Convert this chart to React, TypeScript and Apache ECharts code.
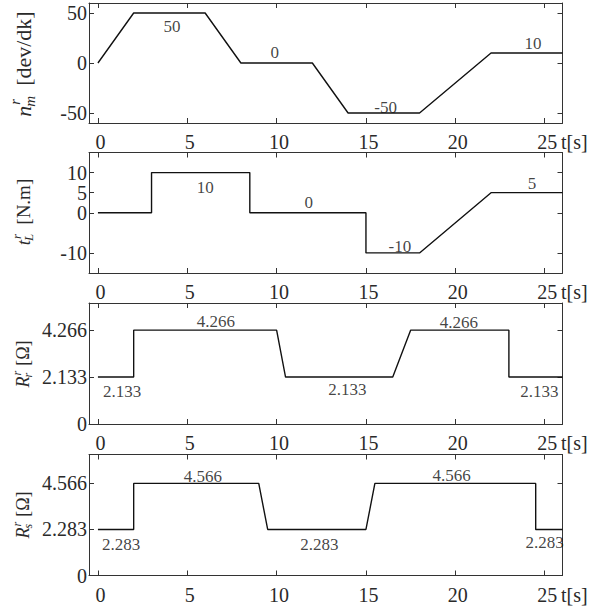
import React, { useEffect, useRef } from "react";
import * as echarts from "echarts";

// ---- data ----
const xTicks = [0, 5, 10, 15, 20, 25];

const speedT = [0, 2, 6, 8, 12, 14, 18, 22, 26];
const speedV = [0, 50, 50, 0, 0, -50, -50, 10, 10];
const speedTicks = [-50, 0, 50];
const speedNoteT = [4.15, 9.9, 16.1, 24.35];
const speedNoteV = [37, 11, -44, 20];
const speedNoteText = ["50", "0", "-50", "10"];

const torqueT = [0, 3, 3, 8.5, 8.5, 15, 15, 18, 22, 26];
const torqueV = [0, 0, 10, 10, 0, 0, -10, -10, 5, 5];
const torqueTicks = [-10, 0, 5, 10];
const torqueNoteT = [6.0, 11.8, 16.9, 24.3];
const torqueNoteV = [6.3, 2.6, -8.3, 7.4];
const torqueNoteText = ["10", "0", "-10", "5"];

const rrT = [0, 2, 2, 10, 10.5, 16.5, 17.5, 23, 23, 26];
const rrV = [2.133, 2.133, 4.266, 4.266, 2.133, 2.133, 4.266, 4.266, 2.133, 2.133];
const rrTicks = [0, 2.133, 4.266];
const rrNoteT = [6.6, 20.2, 1.36, 13.96, 24.7];
const rrNoteV = [4.66, 4.62, 1.47, 1.55, 1.5];
const rrNoteText = ["4.266", "4.266", "2.133", "2.133", "2.133"];

const rsT = [0, 2, 2, 9, 9.5, 15, 15.5, 24.5, 24.5, 26];
const rsV = [2.283, 2.283, 4.566, 4.566, 2.283, 2.283, 4.566, 4.566, 2.283, 2.283];
const rsTicks = [0, 2.283, 4.566];
const rsNoteT = [5.88, 19.8, 1.3, 12.4, 25.0];
const rsNoteV = [4.93, 4.96, 1.53, 1.53, 1.64];
const rsNoteText = ["4.566", "4.566", "2.283", "2.283", "2.283"];

const FONT = "'Liberation Serif', serif";
const TXT = "#2a2a2a";
const AX = "#333";

type Panel = {
  t: number[];
  v: number[];
  ticks: number[];
  min: number;
  max: number;
  noteT: number[];
  noteV: number[];
  noteText: string[];
  top: number;
  height: number;
  lab: { base: string; sup: string; sub: string; rest: string; fs: number; gap: number; cy: number };
};

const panels: Panel[] = [
  {
    t: speedT, v: speedV, ticks: speedTicks, min: -60, max: 60,
    noteT: speedNoteT, noteV: speedNoteV, noteText: speedNoteText,
    top: 3, height: 120,
    lab: { base: "n", sup: "r", sub: "m", rest: "[dev/dk]", fs: 22, gap: 8, cy: 64 },
  },
  {
    t: torqueT, v: torqueV, ticks: torqueTicks, min: -15, max: 15,
    noteT: torqueNoteT, noteV: torqueNoteV, noteText: torqueNoteText,
    top: 152.5, height: 120.5,
    lab: { base: "t", sup: "r", sub: "L", rest: "[N.m]", fs: 19, gap: 7, cy: 212 },
  },
  {
    t: rrT, v: rrV, ticks: rrTicks, min: 0, max: 5.5,
    noteT: rrNoteT, noteV: rrNoteV, noteText: rrNoteText,
    top: 303, height: 121,
    lab: { base: "R", sup: "r", sub: "r", rest: "[\u03A9]", fs: 18, gap: 5, cy: 364 },
  },
  {
    t: rsT, v: rsV, ticks: rsTicks, min: 0, max: 6,
    noteT: rsNoteT, noteV: rsNoteV, noteText: rsNoteText,
    top: 454.5, height: 121,
    lab: { base: "R", sup: "r", sub: "s", rest: "[\u03A9]", fs: 18, gap: 5, cy: 515 },
  },
];

function measure(text: string, font: string): number {
  const c = document.createElement("canvas").getContext("2d");
  if (!c) return text.length * 8;
  c.font = font;
  return c.measureText(text).width;
}

function yLabel(lab: Panel["lab"]) {
  const fs = lab.fs;
  const sfs = Math.round(fs * 0.68);
  const wBase = measure(lab.base, `italic ${fs}px ${FONT}`);
  const wSup = measure(lab.sup, `italic ${sfs}px ${FONT}`);
  const wSub = measure(lab.sub, `italic ${sfs}px ${FONT}`);
  const wRest = measure(lab.rest, `${fs}px ${FONT}`);
  const total = wBase + 1 + Math.max(wSup, wSub) + lab.gap + wRest;
  const x0 = -total / 2;
  const mk = (text: string, x: number, y: number, size: number, italic: boolean) => ({
    type: "text",
    x,
    y,
    style: {
      text,
      fontSize: size,
      fontFamily: FONT,
      fontStyle: italic ? "italic" : "normal",
      fill: TXT,
      align: "left",
      verticalAlign: "middle",
      textAlign: "left",
      textVerticalAlign: "middle",
    },
  });
  return {
    type: "group",
    x: 23,
    y: lab.cy,
    rotation: Math.PI / 2,
    silent: true,
    children: [
      mk(lab.base, x0, 0, fs, true),
      mk(lab.sup, x0 + wBase + 1, -fs * 0.36, sfs, true),
      mk(lab.sub, x0 + wBase - 1, fs * 0.3, sfs, true),
      mk(lab.rest, x0 + wBase + 1 + Math.max(wSup, wSub) + lab.gap, 0, fs, false),
    ],
  };
}

export default function App() {
  const ref = useRef<HTMLDivElement>(null);
  useEffect(() => {
    if (!ref.current) return;
    const chart = echarts.init(ref.current, undefined, { renderer: "svg" });
    const grids: any[] = [];
    const xAxes: any[] = [];
    const yAxes: any[] = [];
    const series: any[] = [];
    panels.forEach((p, i) => {
      grids.push({ left: 89, width: 473.5, top: p.top, height: p.height });
      const tickStyle = { show: true, inside: true, length: 5, lineStyle: { color: AX, width: 1 } };
      const lineStyle = { show: true, onZero: false, lineStyle: { color: AX, width: 1 } };
      xAxes.push({
        type: "value", gridIndex: i, position: "bottom", min: -0.5, max: 26,
        axisLine: lineStyle,
        axisTick: { ...tickStyle, customValues: xTicks },
        axisLabel: {
          show: true, customValues: xTicks, margin: 9, padding: [0, 0, 0, 5],
          fontFamily: FONT, fontSize: 20, color: TXT,
        },
        splitLine: { show: false },
        name: "t[s]", nameLocation: "end", nameGap: -6,
        nameTextStyle: { fontFamily: FONT, fontSize: 20, color: TXT, align: "left", verticalAlign: "top", padding: [9, 0, 0, 0] },
      });
      xAxes.push({
        type: "value", gridIndex: i, position: "top", min: -0.5, max: 26,
        axisLine: lineStyle,
        axisTick: { ...tickStyle, customValues: xTicks },
        axisLabel: { show: false },
        splitLine: { show: false },
      });
      yAxes.push({
        type: "value", gridIndex: i, position: "left", min: p.min, max: p.max,
        axisLine: lineStyle,
        axisTick: { ...tickStyle, customValues: p.ticks },
        axisLabel: { show: true, customValues: p.ticks, margin: 2, fontFamily: FONT, fontSize: 20, color: TXT },
        splitLine: { show: false },
      });
      yAxes.push({
        type: "value", gridIndex: i, position: "right", min: p.min, max: p.max,
        axisLine: lineStyle,
        axisTick: { ...tickStyle, customValues: p.ticks },
        axisLabel: { show: false },
        splitLine: { show: false },
      });
      series.push({
        type: "line", xAxisIndex: 2 * i, yAxisIndex: 2 * i,
        data: p.t.map((t, k) => [t, p.v[k]]),
        showSymbol: false, symbol: "none",
        lineStyle: { color: "#111", width: 1.4 },
        silent: true,
      });
      series.push({
        type: "scatter", xAxisIndex: 2 * i, yAxisIndex: 2 * i,
        data: p.noteT.map((t, k) => [t, p.noteV[k], p.noteText[k]]),
        symbolSize: 0,
        itemStyle: { color: "transparent" },
        label: {
          show: true, position: "inside",
          formatter: (pr: any) => pr.value[2],
          fontFamily: FONT, fontSize: 17, color: "#111",
        },
        silent: true,
      });
    });
    chart.setOption({
      animation: false,
      backgroundColor: "#fff",
      grid: grids,
      xAxis: xAxes,
      yAxis: yAxes,
      series,
      graphic: panels.map((p) => yLabel(p.lab)),
    });
    return () => chart.dispose();
  }, []);
  return (
    <div
      ref={ref}
      style={{ position: "fixed", left: 0, top: 0, width: 589, height: 613, background: "#fff" }}
    />
  );
}
